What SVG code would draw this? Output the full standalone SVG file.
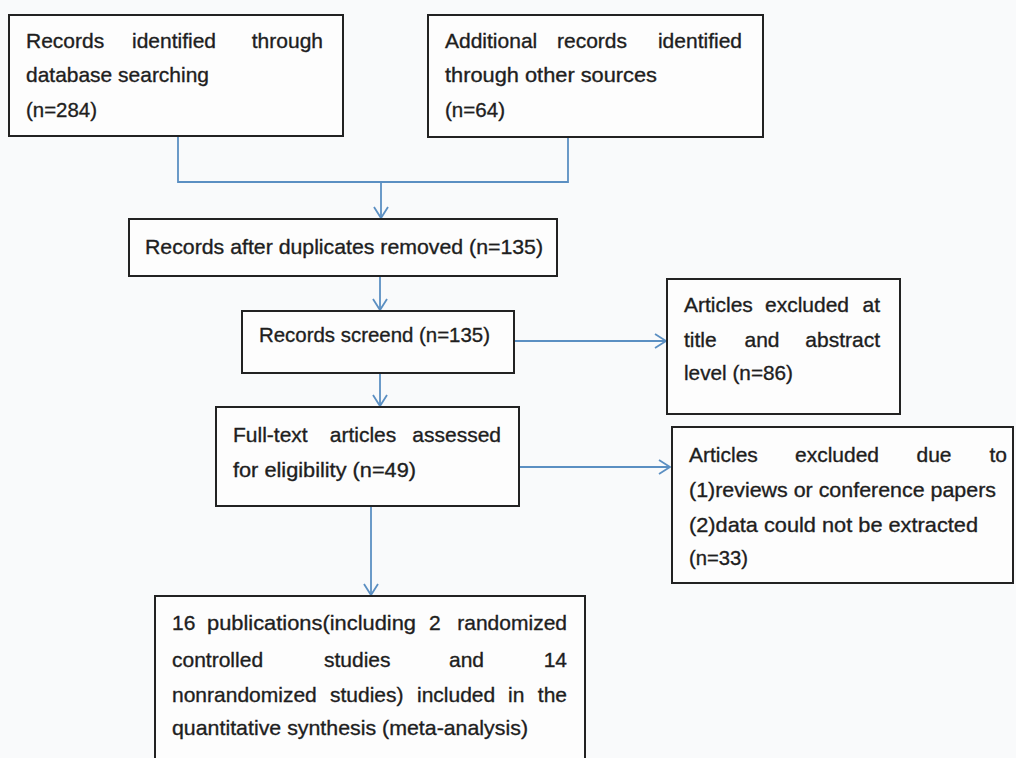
<svg xmlns="http://www.w3.org/2000/svg" width="1016" height="758" viewBox="0 0 1016 758">
<defs>
<style>
.box{fill:#fdfdfd;stroke:#222;stroke-width:2}
.t{font-family:"Liberation Sans",Arial,sans-serif;font-size:21px;fill:#1e1e1e;stroke:#1e1e1e;stroke-width:0.35}
.e{text-anchor:end}
.m{text-anchor:middle}
.c{fill:none;stroke:#5b8fc2;stroke-width:1.8}
</style>
<marker id="ah" markerWidth="14" markerHeight="16" refX="12" refY="8" orient="auto" markerUnits="userSpaceOnUse">
<path d="M1,1 L12,8 L1,15" fill="none" stroke="#5b8fc2" stroke-width="1.8"/>
</marker>
</defs>
<rect x="0" y="0" width="1016" height="758" fill="#f9fafb"/>
<g id="connectors">
<path class="c" d="M178,136 V182 H568 V137"/>
<path class="c" d="M381,182 V218" marker-end="url(#ah)"/>
<path class="c" d="M380,276 V310" marker-end="url(#ah)"/>
<path class="c" d="M514,341 H666" marker-end="url(#ah)"/>
<path class="c" d="M380,373 V406" marker-end="url(#ah)"/>
<path class="c" d="M519,467 H670" marker-end="url(#ah)"/>
<path class="c" d="M371,506 V595" marker-end="url(#ah)"/>
</g>
<g id="n1">
<rect class="box" x="9" y="15" width="334" height="121"/>
<text class="t" x="26" y="48">Records</text>
<text class="t m" x="174" y="48">identified</text>
<text class="t e" x="323" y="48">through</text>
<text class="t" x="26" y="82" textLength="183" lengthAdjust="spacingAndGlyphs">database searching</text>
<text class="t" x="26" y="117" textLength="71" lengthAdjust="spacingAndGlyphs">(n=284)</text>
</g>
<g id="n2">
<rect class="box" x="428" y="15" width="335" height="122"/>
<text class="t" x="445" y="48">Additional</text>
<text class="t m" x="592" y="48">records</text>
<text class="t e" x="742" y="48">identified</text>
<text class="t" x="445" y="82" textLength="212" lengthAdjust="spacingAndGlyphs">through other sources</text>
<text class="t" x="445" y="117" textLength="60" lengthAdjust="spacingAndGlyphs">(n=64)</text>
</g>
<g id="n3">
<rect class="box" x="129" y="219" width="428" height="57"/>
<text class="t" x="145" y="254" textLength="398" lengthAdjust="spacingAndGlyphs">Records after duplicates removed (n=135)</text>
</g>
<g id="n4">
<rect class="box" x="242" y="311" width="272" height="62"/>
<text class="t" x="259" y="342" textLength="231" lengthAdjust="spacingAndGlyphs">Records screend (n=135)</text>
</g>
<g id="n5">
<rect class="box" x="667" y="279" width="233" height="135"/>
<text class="t" x="684" y="312">Articles</text>
<text class="t m" x="807" y="312">excluded</text>
<text class="t e" x="880" y="312">at</text>
<text class="t" x="684" y="347">title</text>
<text class="t m" x="762" y="347">and</text>
<text class="t e" x="880" y="347">abstract</text>
<text class="t" x="684" y="380" textLength="109" lengthAdjust="spacingAndGlyphs">level (n=86)</text>
</g>
<g id="n6">
<rect class="box" x="216" y="407" width="303" height="99"/>
<text class="t" x="233" y="442">Full-text</text>
<text class="t m" x="363" y="442">articles</text>
<text class="t e" x="501" y="442">assessed</text>
<text class="t" x="233" y="477" textLength="183" lengthAdjust="spacingAndGlyphs">for eligibility  (n=49)</text>
</g>
<g id="n7">
<rect class="box" x="672" y="427" width="341" height="156"/>
<text class="t" x="689" y="462">Articles</text>
<text class="t m" x="837" y="462">excluded</text>
<text class="t m" x="934" y="462">due</text>
<text class="t e" x="1007" y="462">to</text>
<text class="t" x="689" y="497" textLength="307" lengthAdjust="spacingAndGlyphs">(1)reviews or conference papers</text>
<text class="t" x="689" y="532" textLength="289" lengthAdjust="spacingAndGlyphs">(2)data could not be extracted</text>
<text class="t" x="689" y="565" textLength="59" lengthAdjust="spacingAndGlyphs">(n=33)</text>
</g>
<g id="n8">
<rect class="box" x="155" y="596" width="430" height="180"/>
<text class="t" x="172" y="630">16</text>
<text class="t" x="207" y="630" textLength="209" lengthAdjust="spacingAndGlyphs">publications(including</text>
<text class="t" x="429" y="630">2</text>
<text class="t e" x="567" y="630">randomized</text>
<text class="t" x="172" y="667">controlled</text>
<text class="t" x="324" y="667">studies</text>
<text class="t" x="449" y="667">and</text>
<text class="t e" x="567" y="667">14</text>
<text class="t" x="172" y="702">nonrandomized</text>
<text class="t" x="330" y="702">studies)</text>
<text class="t" x="417" y="702">included</text>
<text class="t" x="508" y="702">in</text>
<text class="t e" x="567" y="702">the</text>
<text class="t" x="172" y="735" textLength="356" lengthAdjust="spacingAndGlyphs">quantitative synthesis (meta-analysis)</text>
</g>
</svg>
